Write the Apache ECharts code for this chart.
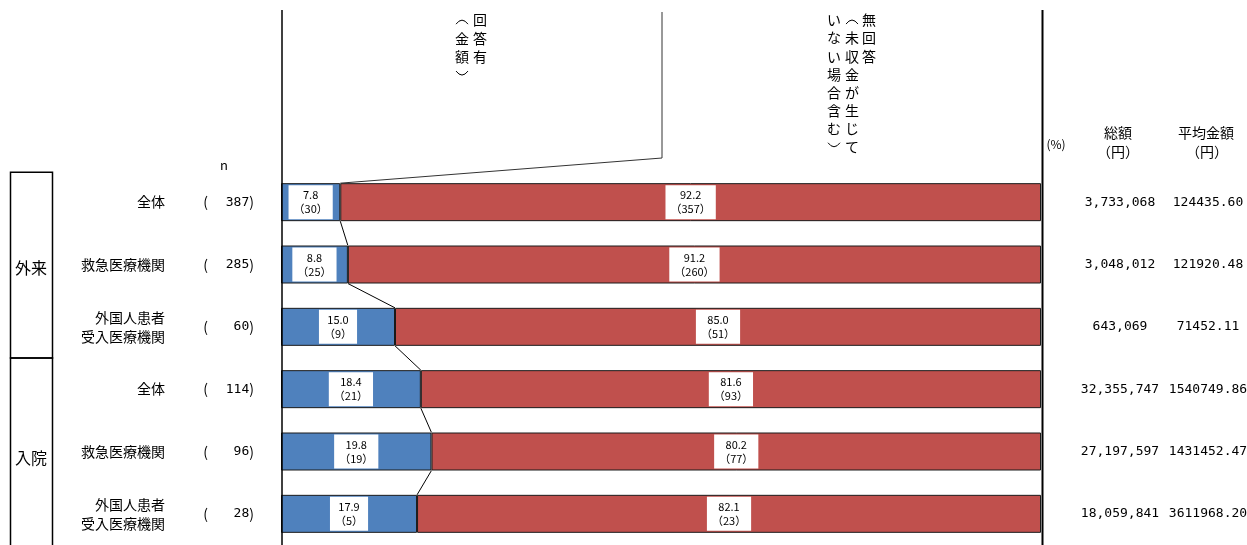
<!DOCTYPE html>
<html>
<head>
<meta charset="utf-8">
<script src="https://cdn.jsdelivr.net/npm/echarts@6/dist/echarts.min.js"></script>
<style>
  html, body { margin: 0; padding: 0; background: #fff; }
  #main { width: 1247px; height: 545px; }
</style>
</head>
<body>
<div id="main"></div>
<script>
var FONT = '"Noto Sans CJK JP", "Noto Sans", sans-serif';
var MONO = '"DejaVu Sans Mono", monospace';

// data
var names = ['全体', '救急医療機関', '外国人患者\n受入医療機関', '全体', '救急医療機関', '外国人患者\n受入医療機関'];
var groups = ['外来', '入院'];
var nValues = [387, 285, 60, 114, 96, 28];
var answeredPct = [7.8, 8.8, 15.0, 18.4, 19.8, 17.9];
var answeredCnt = [30, 25, 9, 21, 19, 5];
var noAnswerPct = [92.2, 91.2, 85.0, 81.6, 80.2, 82.1];
var noAnswerCnt = [357, 260, 51, 93, 77, 23];
var totals = ['3,733,068', '3,048,012', '643,069', '32,355,747', '27,197,597', '18,059,841'];
var averages = ['124435.60', '121920.48', '71452.11', '1540749.86', '1431452.47', '3611968.20'];

var barW = 38;
var rows = names.map(function (d, i) { return String(i); });

// lines joining the blue/red boundary of neighbouring bars
var links = [];
for (var i = 0; i < answeredPct.length - 1; i++) {
  links.push([i, answeredPct[i], answeredPct[i + 1]]);
}

var chart = echarts.init(document.getElementById('main'));

function yAxisBase(extra) {
  var ax = {
    type: 'category',
    data: rows,
    inverse: true,
    axisLine: { show: false },
    axisTick: { show: false },
    splitLine: { show: false }
  };
  for (var k in extra) ax[k] = extra[k];
  return ax;
}

var labelStyle = {
  show: true,
  position: 'inside',
  color: '#000',
  fontFamily: FONT,
  fontSize: 11,
  lineHeight: 14,
  backgroundColor: '#fff',
  padding: [3, 5]
};

chart.setOption({
  animation: false,
  textStyle: { fontFamily: FONT },
  grid: { left: 281, right: 206, top: 171, height: 374, outerBoundsMode: 'none', containLabel: false },
  xAxis: { type: 'value', min: 0, max: 100, show: false },
  yAxis: [
    yAxisBase({
      position: 'left', offset: 116,
      axisLabel: {
        margin: 0, fontSize: 14, color: '#000', align: 'right', lineHeight: 19,
        formatter: function (v, i) { return names[i]; }
      }
    }),
    yAxisBase({
      position: 'left', offset: 0,
      axisLabel: {
        margin: 27, color: '#000',
        formatter: function (v, i) { return '{p|(}{n|' + nValues[i] + '}{q|)}'; },
        rich: {
          p: { width: 18, align: 'left', fontSize: 14, fontFamily: FONT, color: '#000' },
          n: { width: 28, align: 'right', fontSize: 13, fontFamily: MONO, color: '#000' },
          q: { fontSize: 14, fontFamily: FONT, color: '#000' }
        }
      }
    }),
    yAxisBase({
      position: 'right', offset: 0,
      axisLabel: {
        margin: 79, align: 'center', fontSize: 13, fontFamily: MONO, color: '#000',
        formatter: function (v, i) { return totals[i]; }
      }
    }),
    yAxisBase({
      position: 'right', offset: 0,
      axisLabel: {
        margin: 167, align: 'center', fontSize: 13, fontFamily: MONO, color: '#000',
        formatter: function (v, i) { return averages[i]; }
      }
    })
  ],
  series: [
    {
      name: '回答有（金額）',
      type: 'bar', stack: 'all', barWidth: barW,
      data: answeredPct,
      itemStyle: { color: '#4F81BD', borderColor: '#1a1a1a', borderWidth: 1 },
      label: Object.assign({}, labelStyle, {
        formatter: function (p) { return answeredPct[p.dataIndex].toFixed(1) + '\n（' + answeredCnt[p.dataIndex] + '）'; }
      })
    },
    {
      name: '無回答（未収金が生じていない場合含む）',
      type: 'bar', stack: 'all', barWidth: barW,
      data: noAnswerPct,
      itemStyle: { color: '#C0504D', borderColor: '#1a1a1a', borderWidth: 1 },
      label: Object.assign({}, labelStyle, {
        formatter: function (p) { return noAnswerPct[p.dataIndex].toFixed(1) + '\n（' + noAnswerCnt[p.dataIndex] + '）'; }
      })
    },
    {
      type: 'custom',
      data: links,
      encode: { x: [1, 2], y: 0 },
      z: 5,
      silent: true,
      renderItem: function (params, api) {
        var i = api.value(0);
        var a = api.coord([api.value(1), i]);
        var b = api.coord([api.value(2), i + 1]);
        return {
          type: 'line',
          shape: { x1: a[0], y1: a[1] + barW / 2, x2: b[0], y2: b[1] - barW / 2 },
          style: { stroke: '#000', lineWidth: 1 }
        };
      }
    }
  ]
});

// decorations placed from the axes
var yc = function (i) { return chart.convertToPixel({ yAxisIndex: 0 }, String(i)); };
var xc = function (v) { return chart.convertToPixel({ xAxisIndex: 0 }, v); };
var x0 = xc(0), x100 = xc(100);
var boxTop = yc(0) - 30;
var boxMid = (yc(2) + yc(3)) / 2;

function txt(x, y, s, size, align, lh, font) {
  return {
    type: 'text', x: x, y: y, z: 10,
    style: {
      text: s, fill: '#000', font: size + 'px ' + (font || FONT),
      textAlign: align || 'center', textVerticalAlign: 'top',
      lineHeight: lh || size + 4
    }
  };
}
// vertical writing: one glyph per cell, brackets drawn as small arcs
function vcol(x, top, s, lh, out) {
  s.split('').forEach(function (ch, k) {
    var cy = top + lh * k + lh / 2;
    if (ch === '（' || ch === '）') {
      var open = ch === '（';
      var by = open ? cy + 4 : cy - 4;
      var dy = open ? -5 : 5;
      out.push({
        type: 'bezierCurve', z: 10,
        shape: { x1: x - 6, y1: by, x2: x + 6, y2: by, cpx1: x, cpy1: by + dy * 1.6 },
        style: { stroke: '#000', lineWidth: 1, fill: null }
      });
      return;
    }
    out.push({
      type: 'text', x: x, y: cy, z: 10,
      style: { text: ch, fill: '#000', font: '14px ' + FONT, textAlign: 'center', textVerticalAlign: 'middle' }
    });
  });
}
function line(x1, y1, x2, y2, w, c) {
  return { type: 'line', z: 10, shape: { x1: x1, y1: y1, x2: x2, y2: y2 }, style: { stroke: c || '#000', lineWidth: w || 1 } };
}

var leaderX = 662;
var g = [
  line(x0 + 1, 10, x0 + 1, 545, 1.5),
  line(x100 + 1.5, 10, x100 + 1.5, 545, 2),
  // leader to the first label
  { type: 'polyline', z: 10, shape: { points: [[xc(answeredPct[0]), yc(0) - barW / 2], [leaderX, 158], [leaderX, 12]] },
    style: { stroke: '#333', lineWidth: 1, fill: null } },
  // group boxes
  { type: 'rect', z: 10, shape: { x: 10.5, y: boxTop, width: 42, height: boxMid - boxTop }, style: { fill: null, stroke: '#000', lineWidth: 1.5 } },
  { type: 'rect', z: 10, shape: { x: 10.5, y: boxMid, width: 42, height: 220 }, style: { fill: null, stroke: '#000', lineWidth: 1.5 } },
  txt(31, (yc(0) + yc(2)) / 2 - 7, groups[0], 16),
  txt(31, (yc(3) + yc(5)) / 2 - 4, groups[1], 16),
  // headers
  txt(224, 157, 'n', 13),
  txt(1056, 136, '(%)', 12),
  txt(1118, 124, '総額', 14),
  txt(1118, 143, '（円）', 14),
  txt(1206, 124, '平均金額', 14),
  txt(1207, 143, '（円）', 14)
];
// vertical series titles
vcol(480, 11, '回答有', 18.3, g);
vcol(462, 11, '（金額）', 18.3, g);
vcol(869, 11, '無回答', 18.1, g);
vcol(852, 11, '（未収金が生じて', 18.1, g);
vcol(834, 11, 'いない場合含む）', 18.1, g);
chart.setOption({ graphic: g });
</script>
</body>
</html>
